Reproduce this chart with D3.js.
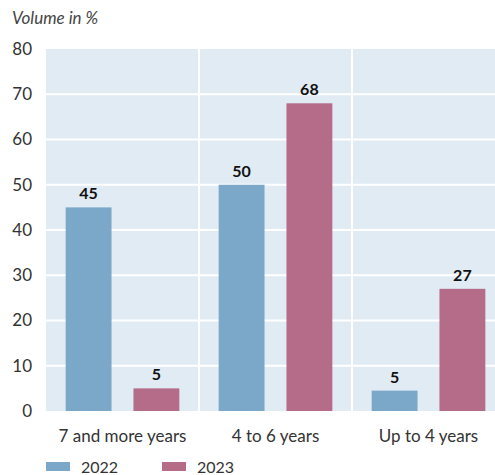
<!DOCTYPE html>
<html>
<head>
<meta charset="utf-8">
<script src="https://cdn.jsdelivr.net/npm/d3@7"></script>
<style>
  body { margin: 0; background: #fff; }
  svg { display: block; font-family: "Lato", "Open Sans", sans-serif; }
</style>
</head>
<body>
<div id="chart"></div>
<script>
// chart data
var categories = ["7 and more years", "4 to 6 years", "Up to 4 years"];
var years = ["2022", "2023"];
var values2022 = [45, 50, 4.5];
var values2023 = [5, 68, 27];
var yTicks = [0, 10, 20, 30, 40, 50, 60, 70, 80];

var colors = { "2022": "#7ba7c9", "2023": "#b46c88" };

var width = 495, height = 475;
var plot = { left: 46, right: 505, top: 49, bottom: 411 };

var svg = d3.select("#chart").append("svg")
    .attr("width", width)
    .attr("height", height);

var x = d3.scaleBand()
    .domain(categories)
    .range([plot.left, plot.right]);

var xInner = d3.scaleBand()
    .domain(years)
    .range([0, x.bandwidth()])
    .paddingInner(0.3235)
    .paddingOuter(0.29);

var y = d3.scaleLinear()
    .domain([0, 80])
    .range([plot.bottom, plot.top]);

// background
svg.append("rect")
    .attr("x", plot.left)
    .attr("y", plot.top)
    .attr("width", plot.right - plot.left)
    .attr("height", plot.bottom - plot.top)
    .attr("fill", "#e1ebf4");

// horizontal grid
svg.append("g")
    .selectAll("line")
    .data(yTicks.filter(function(t) { return t > 0 && t < 80; }))
    .enter().append("line")
    .attr("x1", plot.left)
    .attr("x2", plot.right)
    .attr("y1", function(d) { return y(d); })
    .attr("y2", function(d) { return y(d); })
    .attr("stroke", "#fff")
    .attr("stroke-width", 2);

// vertical dividers between groups
svg.append("g")
    .selectAll("line")
    .data(categories.slice(1))
    .enter().append("line")
    .attr("x1", function(d) { return x(d); })
    .attr("x2", function(d) { return x(d); })
    .attr("y1", plot.top)
    .attr("y2", plot.bottom)
    .attr("stroke", "#fff")
    .attr("stroke-width", 2);

// y axis labels
svg.append("g")
    .selectAll("text")
    .data(yTicks)
    .enter().append("text")
    .attr("x", 32)
    .attr("y", function(d) { return y(d); })
    .attr("dy", "0.35em")
    .attr("text-anchor", "end")
    .attr("font-size", 17)
    .attr("fill", "#333")
    .text(function(d) { return d; });

svg.append("text")
    .attr("x", 12)
    .attr("y", 24)
    .attr("font-size", 17)
    .attr("font-style", "italic")
    .attr("fill", "#444")
    .text("Volume in %");

// bars
var barData = [];
categories.forEach(function(c, i) {
    barData.push({ cat: c, year: "2022", value: values2022[i] });
    barData.push({ cat: c, year: "2023", value: values2023[i] });
});

svg.append("g")
    .selectAll("rect")
    .data(barData)
    .enter().append("rect")
    .attr("x", function(d) { return x(d.cat) + xInner(d.year); })
    .attr("y", function(d) { return y(d.value); })
    .attr("width", xInner.bandwidth())
    .attr("height", function(d) { return y(0) - y(d.value); })
    .attr("fill", function(d) { return colors[d.year]; });

svg.append("g")
    .selectAll("text")
    .data(barData)
    .enter().append("text")
    .attr("x", function(d) { return x(d.cat) + xInner(d.year) + xInner.bandwidth() / 2; })
    .attr("y", function(d) { return y(d.value) - 8; })
    .attr("text-anchor", "middle")
    .attr("font-size", 16)
    .attr("font-weight", "bold")
    .attr("fill", "#111")
    .text(function(d) { return Math.round(d.value); });

// category labels
svg.append("g")
    .selectAll("text")
    .data(categories)
    .enter().append("text")
    .attr("x", function(d) { return x(d) + x.bandwidth() / 2; })
    .attr("y", 442)
    .attr("text-anchor", "middle")
    .attr("font-size", 17)
    .attr("fill", "#333")
    .text(function(d) { return d; });

// legend
var legend = svg.append("g")
    .selectAll("g")
    .data(years)
    .enter().append("g")
    .attr("transform", function(d, i) { return "translate(" + (46 + i * 116) + ",462)"; });

legend.append("rect")
    .attr("width", 24)
    .attr("height", 9)
    .attr("fill", function(d) { return colors[d]; });

legend.append("text")
    .attr("x", 35)
    .attr("y", 11)
    .attr("font-size", 16)
    .attr("fill", "#333")
    .text(function(d) { return d; });
</script>
</body>
</html>
